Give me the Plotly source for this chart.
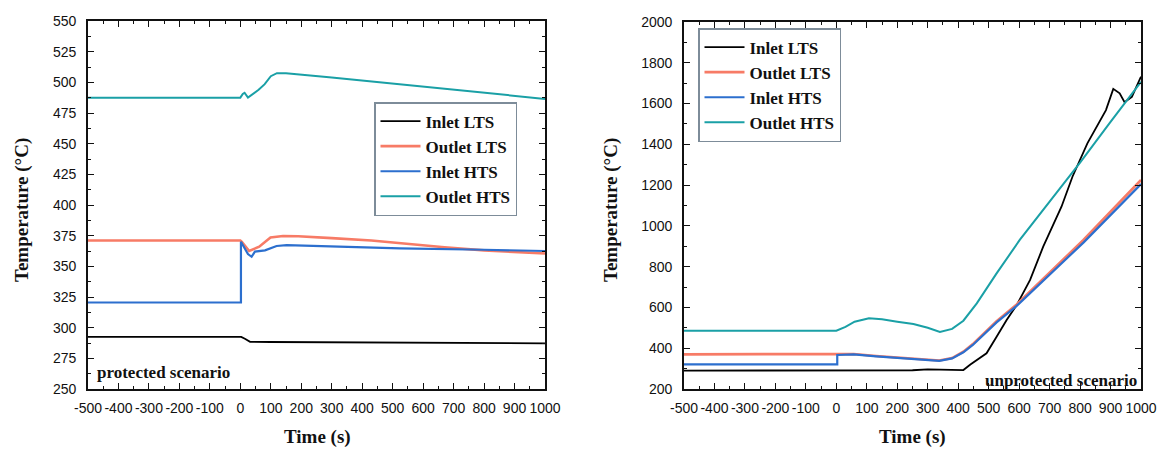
import plotly.graph_objects as go

# ---------------- data: protected scenario (left) ----------------
pt_inlet_lts = [-500, 3, 15, 32, 100, 500, 1000]
pv_inlet_lts = [292.5, 292.5, 291, 288.5, 288.3, 287.8, 287.2]

pt_outlet_lts = [-500, 0, 5, 29, 62, 99, 140, 190, 300, 430, 670, 800, 1000]
pv_outlet_lts = [371, 371, 370, 362.5, 366, 373.5, 374.7, 374.5, 373, 371, 365.5, 363, 360.5]

pt_inlet_hts = [-500, 2, 2, 15, 25, 37, 48, 81, 119, 152, 300, 524, 800, 1000]
pv_inlet_hts = [320.5, 320.5, 370, 364, 360, 357.8, 362, 363, 366.6, 367.3, 366.3, 364.7, 363.5, 362.5]

pt_outlet_hts = [-500, 0, 8, 14, 25, 40, 60, 80, 100, 120, 150, 300, 500, 700, 900, 1000]
pv_outlet_hts = [487.5, 487.5, 490.5, 491.5, 487.5, 490, 494, 498.5, 505, 507.5, 507.5, 504, 499, 494, 489, 486.5]

# ---------------- data: unprotected scenario (right) ----------------
ut_inlet_lts = [-500, 250, 300, 340, 370, 417, 440, 461, 493, 526, 559, 592, 636, 679,
                739, 775, 824, 885, 909, 930, 946, 970, 1000]
uv_inlet_lts = [290, 292, 296, 295, 292, 293, 320, 342, 375, 456, 538, 612, 735, 898,
                1094, 1241, 1405, 1568, 1672, 1650, 1607, 1633, 1732]

ut_outlet_lts = [-500, 0, 57, 131, 229, 338, 380, 417, 448, 496, 526, 592, 700, 811, 1000]
uv_outlet_lts = [370, 370, 372, 362, 350, 340, 352, 383, 420, 490, 532, 615, 770, 931, 1225]

ut_inlet_hts = [-500, 3, 3, 57, 131, 229, 338, 380, 417, 448, 496, 526, 592, 700, 811, 1000]
uv_inlet_hts = [321, 321, 367, 370, 360, 348, 338, 350, 380, 416, 486, 527, 608, 760, 918, 1205]

ut_outlet_hts = [-500, 0, 30, 60, 107, 150, 200, 253, 300, 340, 380, 417, 461, 526, 602,
                 700, 800, 900, 1000]
uv_outlet_hts = [486, 486, 505, 530, 547, 542, 530, 519, 500, 480, 495, 535, 620, 767, 931,
                 1117, 1310, 1510, 1707]

series_names = ["Inlet LTS", "Outlet LTS", "Inlet HTS", "Outlet HTS"]
series_colors = ["#000000", "#f77b66", "#2c6fce", "#1aa0a6"]
series_widths = [1.8, 2.6, 2.2, 2.0]

x_tickvals = [-500, -400, -300, -200, -100, 0, 100, 200, 300, 400, 500, 600, 700, 800, 900, 1000]
x_ticktext = ["-500", "-400", "-300", "-200", "-100", "0", "100", "200", "300", "400",
              "500", "600", "700", "800", "900", "1000"]
yl_tickvals = [250, 275, 300, 325, 350, 375, 400, 425, 450, 475, 500, 525, 550]
yr_tickvals = [200, 400, 600, 800, 1000, 1200, 1400, 1600, 1800, 2000]

W, H = 1161, 449

def px(x):
    return x / W

def py(y):
    return 1 - y / H

fig = go.Figure()

left = [(pt_inlet_lts, pv_inlet_lts), (pt_outlet_lts, pv_outlet_lts),
        (pt_inlet_hts, pv_inlet_hts), (pt_outlet_hts, pv_outlet_hts)]
right = [(ut_inlet_lts, uv_inlet_lts), (ut_outlet_lts, uv_outlet_lts),
         (ut_inlet_hts, uv_inlet_hts), (ut_outlet_hts, uv_outlet_hts)]

for i, (t, v) in enumerate(left):
    fig.add_trace(go.Scatter(x=t, y=v, mode="lines", name="<b>%s</b>" % series_names[i],
                             line=dict(color=series_colors[i], width=series_widths[i]),
                             xaxis="x", yaxis="y", legend="legend"))
for i, (t, v) in enumerate(right):
    fig.add_trace(go.Scatter(x=t, y=v, mode="lines", name="<b>%s</b>" % series_names[i],
                             line=dict(color=series_colors[i], width=series_widths[i]),
                             xaxis="x2", yaxis="y2", legend="legend2"))

tickfont = dict(family="Liberation Sans, Arial, sans-serif", size=14, color="#111")
axis_common = dict(showline=True, linecolor="#111", linewidth=1.6, mirror="allticks",
                   ticks="inside", ticklen=6, tickwidth=1.4, tickcolor="#111",
                   showgrid=False, zeroline=False, tickfont=tickfont, automargin=False)

xaxis_cfg = dict(axis_common, range=[-500, 1000], tickmode="array", tickvals=x_tickvals,
                 ticktext=x_ticktext, ticklabelstandoff=5,
                 minor=dict(tickmode="linear", tick0=-450, dtick=100, ticks="inside",
                            ticklen=3.5, tickwidth=1.2, tickcolor="#111"))

legend_font = dict(family="Liberation Serif, Times New Roman, serif", size=17, color="#111")

fig.update_layout(
    width=W, height=H,
    margin=dict(l=0, r=0, t=0, b=0, pad=0, autoexpand=False),
    paper_bgcolor="white", plot_bgcolor="white",
    xaxis=dict(xaxis_cfg, domain=[px(88), px(545)], anchor="y"),
    yaxis=dict(axis_common, domain=[py(389), py(21)], anchor="x", range=[250, 550],
               tickmode="array", tickvals=yl_tickvals, ticklabelstandoff=7,
               minor=dict(tickmode="linear", tick0=262.5, dtick=25, ticks="inside",
                          ticklen=3.5, tickwidth=1.2, tickcolor="#111")),
    xaxis2=dict(xaxis_cfg, domain=[px(684), px(1141)], anchor="y2"),
    yaxis2=dict(axis_common, domain=[py(389), py(22)], anchor="x2", range=[200, 2000],
                tickmode="array", tickvals=yr_tickvals, ticklabelstandoff=7,
                minor=dict(tickmode="linear", tick0=300, dtick=200, ticks="inside",
                           ticklen=3.5, tickwidth=1.2, tickcolor="#111")),
    legend=dict(x=px(374), y=py(102), xanchor="left", yanchor="top",
                bgcolor="white", bordercolor="#7d8c99", borderwidth=1.5,
                font=legend_font, tracegroupgap=0, itemwidth=40),
    legend2=dict(x=px(698), y=py(28), xanchor="left", yanchor="top",
                 bgcolor="white", bordercolor="#7d8c99", borderwidth=1.5,
                 font=legend_font, tracegroupgap=0, itemwidth=40),
    showlegend=True,
)

serif_bold = dict(family="Liberation Serif, Times New Roman, serif", size=19, color="#111")
note_font = dict(family="Liberation Serif, Times New Roman, serif", size=17, color="#111")
annots = [
    dict(text="<b>Time (s)</b>", x=px(317), y=py(437), xref="paper", yref="paper",
         showarrow=False, font=serif_bold, xanchor="center", yanchor="middle"),
    dict(text="<b>Time (s)</b>", x=px(912), y=py(437), xref="paper", yref="paper",
         showarrow=False, font=serif_bold, xanchor="center", yanchor="middle"),
    dict(text="<b>Temperature (°C)</b>", x=px(22), y=py(210), xref="paper", yref="paper",
         showarrow=False, font=serif_bold, textangle=-90, xanchor="center", yanchor="middle"),
    dict(text="<b>Temperature (°C)</b>", x=px(611), y=py(210), xref="paper", yref="paper",
         showarrow=False, font=serif_bold, textangle=-90, xanchor="center", yanchor="middle"),
    dict(text="<b>protected scenario</b>", x=px(95), y=py(372), xref="paper", yref="paper",
         showarrow=False, font=note_font, xanchor="left", yanchor="middle"),
    dict(text="<b>unprotected scenario</b>", x=px(1139), y=py(380), xref="paper", yref="paper",
         showarrow=False, font=note_font, xanchor="right", yanchor="middle"),
]
fig.update_layout(annotations=annots)

fig.write_html(
    "out.html",
    config={"displayModeBar": False},
    post_script="document.body.style.margin='0px'; document.body.style.overflow='hidden';",
)
